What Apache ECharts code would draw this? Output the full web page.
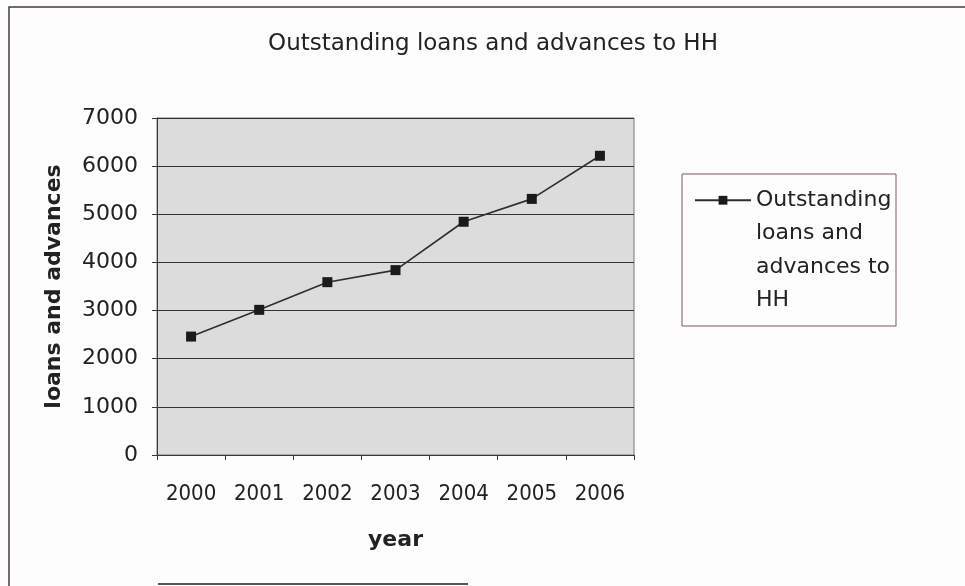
<!DOCTYPE html>
<html>
<head>
<meta charset="utf-8">
<script src="https://cdn.jsdelivr.net/npm/echarts@6/dist/echarts.min.js"></script>
<style>
html,body{margin:0;padding:0;background:#fdfdfd;}
#chart{width:965px;height:586px;}
</style>
</head>
<body>
<div id="chart"></div>
<script>
const titleText = 'Outstanding loans and advances to HH';
const seriesName = 'Outstanding loans and advances to HH';
const legendLines = ['Outstanding', 'loans and', 'advances to', 'HH'];
const years = ['2000', '2001', '2002', '2003', '2004', '2005', '2006'];
const loans = [2460, 3015, 3590, 3840, 4845, 5320, 6215];
const yTicks = [0, 1000, 2000, 3000, 4000, 5000, 6000, 7000];
const xAxisName = 'year';
const yAxisName = 'loans and advances';

const FONT = 'DejaVu Sans';
const chart = echarts.init(document.getElementById('chart'), null, {renderer: 'canvas'});
chart.setOption({
  backgroundColor: '#fdfdfd',
  animation: false,
  title: {
    text: titleText,
    left: 488,
    top: 28,
    textAlign: 'center',
    textStyle: {fontFamily: FONT, fontSize: 23, fontWeight: 'normal', color: '#222'}
  },
  legend: {
    left: 694,
    top: 83,
    padding: 0,
    itemWidth: 56,
    itemHeight: 11,
    data: [seriesName],
    formatter: function () { return '\n\n\n' + legendLines.join('\n'); },
    textStyle: {fontFamily: FONT, fontSize: 22, color: '#222', lineHeight: 33.5}
  },
  grid: {
    left: 157, right: 331, top: 118, bottom: 131,
    show: true,
    backgroundColor: '#dcdcdc',
    borderColor: '#777',
    borderWidth: 1
  },
  xAxis: {
    type: 'category',
    data: years,
    boundaryGap: true,
    name: xAxisName,
    nameLocation: 'middle',
    nameGap: 74,
    nameTextStyle: {fontFamily: FONT, fontSize: 22, fontWeight: 'bold', color: '#222'},
    axisLine: {show: true, lineStyle: {color: '#3a3a3a', width: 1}},
    axisTick: {show: true, interval: 0, length: 5, inside: false, lineStyle: {color: '#3a3a3a'}},
    axisLabel: {interval: 0, fontFamily: 'DejaVu Sans Condensed, DejaVu Sans', fontSize: 22, color: '#222', margin: 28},
    splitLine: {show: false}
  },
  yAxis: {
    type: 'value',
    min: 0,
    max: 7000,
    interval: 1000,
    name: yAxisName,
    nameLocation: 'middle',
    nameRotate: 90,
    nameGap: 92,
    nameTextStyle: {fontFamily: FONT, fontSize: 22, fontWeight: 'bold', color: '#222'},
    axisLine: {show: true, lineStyle: {color: '#3a3a3a', width: 1}},
    axisTick: {show: true, length: 5, inside: false, lineStyle: {color: '#3a3a3a'}},
    axisLabel: {fontFamily: FONT, fontSize: 22, color: '#222', margin: 19,
      formatter: function (v) { return yTicks.indexOf(v) >= 0 ? String(v) : ''; }},
    splitLine: {show: true, lineStyle: {color: '#333', width: 1}}
  },
  series: [{
    name: seriesName,
    type: 'line',
    data: loans,
    symbol: 'rect',
    symbolSize: 10,
    itemStyle: {color: '#1a1a1a'},
    lineStyle: {color: '#2e2e2e', width: 1.6}
  }],
  graphic: [
    {type: 'polyline', silent: true, shape: {points: [[9, 586], [9, 7], [965, 7]]},
     style: {stroke: '#4a3a42', lineWidth: 1.5, fill: null}},
    {type: 'rect', silent: true, shape: {x: 682, y: 174, width: 214, height: 152},
     style: {stroke: '#7a5a66', lineWidth: 1, fill: null}},
    {type: 'line', silent: true, shape: {x1: 158, y1: 584, x2: 468, y2: 584},
     style: {stroke: '#555', lineWidth: 2}}
  ]
});
</script>
</body>
</html>
